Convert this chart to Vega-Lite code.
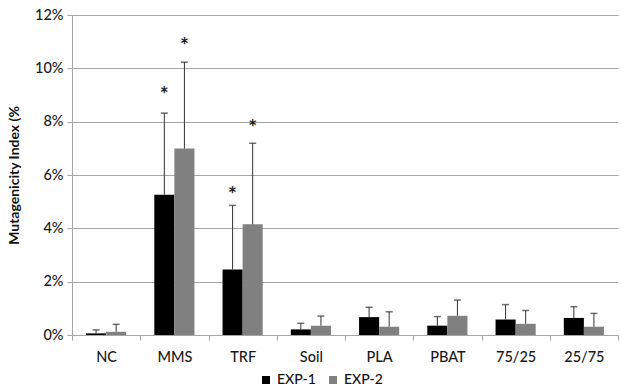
{
  "$schema": "https://vega.github.io/schema/vega-lite/v6.json",
  "autosize": "none",
  "width": 546,
  "height": 320,
  "padding": {"left": 72, "top": 15, "right": 4, "bottom": 55},
  "background": "white",
  "config": {
    "font": "Lato",
    "view": {"stroke": null},
    "axis": {"labelFont": "Lato", "titleFont": "Lato", "labelColor": "#1a1a1a", "titleColor": "#111"}
  },
  "data": {
    "values": [
      {"group": "NC", "exp": "EXP-1", "value": 0.06, "upper": 0.19, "star": null},
      {"group": "NC", "exp": "EXP-2", "value": 0.12, "upper": 0.40, "star": null},
      {"group": "MMS", "exp": "EXP-1", "value": 5.26, "upper": 8.32, "star": 9.16},
      {"group": "MMS", "exp": "EXP-2", "value": 6.99, "upper": 10.23, "star": 11.0},
      {"group": "TRF", "exp": "EXP-1", "value": 2.46, "upper": 4.86, "star": 5.41},
      {"group": "TRF", "exp": "EXP-2", "value": 4.15, "upper": 7.19, "star": 7.91},
      {"group": "Soil", "exp": "EXP-1", "value": 0.21, "upper": 0.44, "star": null},
      {"group": "Soil", "exp": "EXP-2", "value": 0.35, "upper": 0.71, "star": null},
      {"group": "PLA", "exp": "EXP-1", "value": 0.67, "upper": 1.04, "star": null},
      {"group": "PLA", "exp": "EXP-2", "value": 0.31, "upper": 0.87, "star": null},
      {"group": "PBAT", "exp": "EXP-1", "value": 0.35, "upper": 0.69, "star": null},
      {"group": "PBAT", "exp": "EXP-2", "value": 0.72, "upper": 1.31, "star": null},
      {"group": "75/25", "exp": "EXP-1", "value": 0.58, "upper": 1.14, "star": null},
      {"group": "75/25", "exp": "EXP-2", "value": 0.42, "upper": 0.92, "star": null},
      {"group": "25/75", "exp": "EXP-1", "value": 0.64, "upper": 1.06, "star": null},
      {"group": "25/75", "exp": "EXP-2", "value": 0.31, "upper": 0.81, "star": null}
    ]
  },
  "encoding": {
    "x": {
      "field": "group", "type": "nominal", "sort": null,
      "scale": {"paddingInner": 0, "paddingOuter": 0},
      "axis": {
        "title": null, "labelAngle": 0, "labelFontSize": 14.5, "labelFontWeight": 500, "labelPadding": 10,
        "tickBand": "extent", "tickSize": 5, "tickColor": "#a6a6a6",
        "domainColor": "#a6a6a6", "grid": false
      }
    },
    "xOffset": {
      "field": "exp", "type": "nominal",
      "scale": {"paddingInner": 0, "paddingOuter": 0.7}
    }
  },
  "layer": [
    {
      "mark": {"type": "bar"},
      "encoding": {
        "y": {
          "field": "value", "type": "quantitative",
          "scale": {"domain": [0, 12]},
          "axis": {
            "title": "Mutagenicity Index (%", "titleFontSize": 14, "titleFontWeight": "bold",
            "titlePadding": 13,
            "values": [0, 2, 4, 6, 8, 10, 12],
            "labelExpr": "datum.value + '%'",
            "labelFontSize": 14.5, "labelFontWeight": 500, "labelPadding": 4,
            "tickSize": 5, "tickColor": "#a6a6a6",
            "domainColor": "#a6a6a6", "gridColor": "#a6a6a6"
          }
        },
        "color": {
          "field": "exp", "type": "nominal",
          "scale": {"domain": ["EXP-1", "EXP-2"], "range": ["#000000", "#808080"]},
          "legend": {
            "title": null, "orient": "none", "direction": "horizontal",
            "legendX": 187, "legendY": 358,
            "symbolType": "square", "symbolSize": 64, "symbolStrokeWidth": 0,
            "labelFontSize": 14, "labelFontWeight": 500, "labelColor": "#111", "columnPadding": 10, "labelOffset": 4
          }
        }
      }
    },
    {
      "mark": {"type": "rule", "color": "#333", "strokeWidth": 1},
      "encoding": {
        "y": {"field": "value", "type": "quantitative"},
        "y2": {"field": "upper"}
      }
    },
    {
      "mark": {"type": "tick", "color": "#333", "thickness": 1.5, "size": 7},
      "encoding": {
        "y": {"field": "upper", "type": "quantitative"}
      }
    },
    {
      "transform": [{"filter": "datum.star != null"}],
      "mark": {"type": "text", "text": "*", "fontSize": 21, "fontWeight": "bold", "baseline": "middle", "dy": 5, "color": "#222"},
      "encoding": {
        "y": {"field": "star", "type": "quantitative"}
      }
    }
  ]
}
